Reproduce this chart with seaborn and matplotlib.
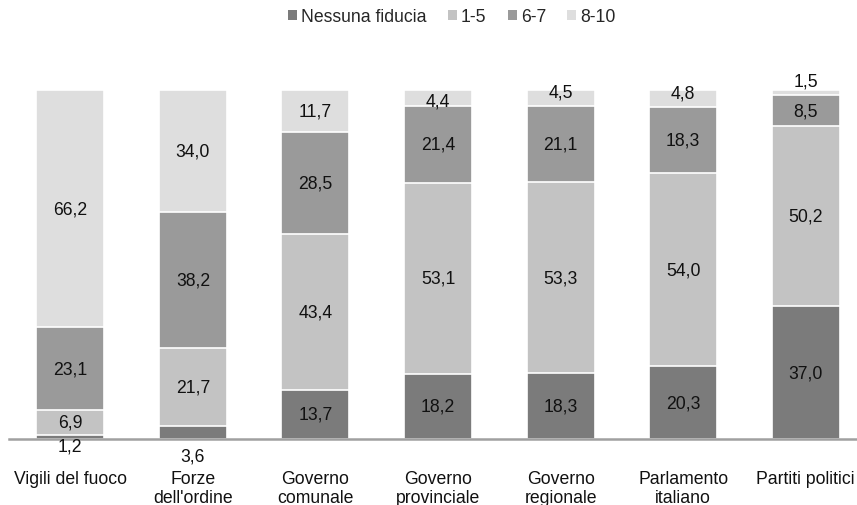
import numpy as np
import pandas as pd
import seaborn as sns
import matplotlib
matplotlib.use("Agg")
import matplotlib.pyplot as plt
from matplotlib.patches import Patch

categories = ["Vigili del fuoco", "Forze\ndell'ordine", "Governo\ncomunale",
              "Governo\nprovinciale", "Governo\nregionale", "Parlamento\nitaliano",
              "Partiti politici"]
series_names = ["Nessuna fiducia", "1-5", "6-7", "8-10"]
nessuna = [1.2, 3.6, 13.7, 18.2, 18.3, 20.3, 37.0]
uno_cinque = [6.9, 21.7, 43.4, 53.1, 53.3, 54.0, 50.2]
sei_sette = [23.1, 38.2, 28.5, 21.4, 21.1, 18.3, 8.5]
otto_dieci = [66.2, 34.0, 11.7, 4.4, 4.5, 4.8, 1.5]

colors = ["#7b7b7b", "#c3c3c3", "#9a9a9a", "#dedede"]

sns.set_theme(style="white")
plt.rcParams["font.family"] = ["Liberation Sans", "DejaVu Sans"]
FS = 12.7

vals = np.array([nessuna, uno_cinque, sei_sette, otto_dieci])  # series x cats
totals = vals.sum(axis=0)
pct = vals / totals * 100
cum = np.cumsum(pct, axis=0)

fig = plt.figure(figsize=(8.57, 5.06), dpi=100)
ax = fig.add_axes([9 / 857, 66 / 506, 858 / 857, 349 / 506])

bw = 68 / 122.6
for s in range(3, -1, -1):
    df = pd.DataFrame({"cat": categories, "val": cum[s]})
    sns.barplot(data=df, x="cat", y="val", order=categories, color=colors[s],
                width=bw, edgecolor="white", linewidth=1.2, saturation=1,
                ax=ax)

# label offsets in pixels for small segments
px_off = {(0, 0): -9, (1, 0): -23, (3, 3): -3, (4, 3): 6, (5, 3): 6, (6, 3): 12}
for s in range(4):
    for i in range(len(categories)):
        lo = cum[s - 1][i] if s > 0 else 0.0
        hi = cum[s][i]
        mid = (lo + hi) / 2
        off = px_off.get((i, s), 0) * 0.72
        txt = f"{vals[s][i]:.1f}".replace(".", ",")
        ax.annotate(txt, (i, mid), xytext=(0, off), textcoords="offset points",
                    ha="center", va="center", fontsize=FS, color="#111111")

ax.set_xlim(-0.5, 6.5)
ax.set_ylim(0, 100)
ax.set_xlabel("")
ax.set_ylabel("")
ax.set_yticks([])
for sp in ["top", "right", "left"]:
    ax.spines[sp].set_visible(False)
ax.spines["bottom"].set_color("#a0a0a0")
ax.spines["bottom"].set_linewidth(1.8)
ax.tick_params(axis="x", length=0, pad=22.5, labelsize=FS, colors="#111111")
ax.set_xticks(range(len(categories)))
ax.set_xticklabels(categories, linespacing=1.1)

handles = [Patch(facecolor=c, edgecolor="none") for c in colors]
fig.legend(handles, series_names, loc="center", bbox_to_anchor=(452 / 857, 1 - 18 / 506),
           ncol=4, frameon=False, fontsize=FS, handlelength=0.5, handleheight=0.5,
           handletextpad=0.25, columnspacing=1.2)

fig.savefig("out.png", dpi=100)
